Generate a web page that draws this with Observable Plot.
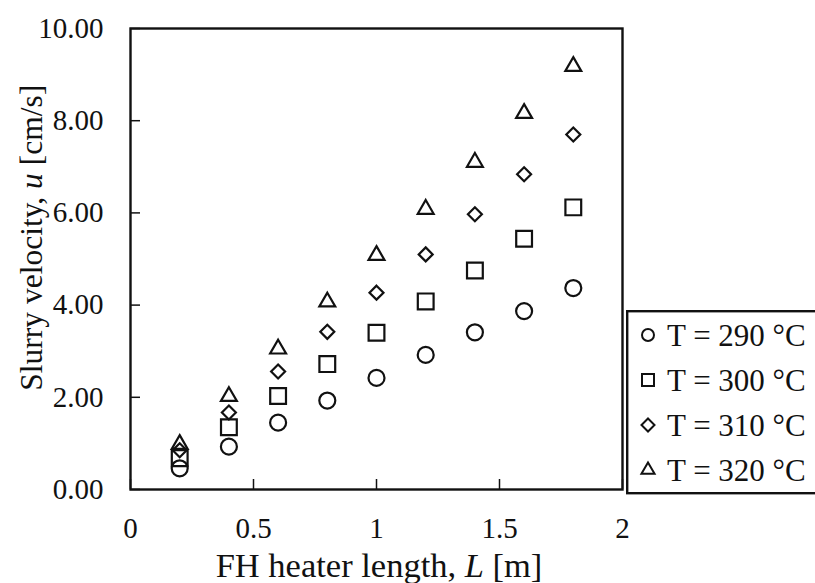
<!DOCTYPE html>
<html><head><meta charset="utf-8">
<script src="https://cdn.jsdelivr.net/npm/d3@7"></script>
<script src="https://cdn.jsdelivr.net/npm/@observablehq/plot@0.6"></script>
<style>
body{margin:0;background:#fff;}
#wrap{position:relative;width:815px;height:583px;overflow:hidden;font-family:"Liberation Serif","Times New Roman","DejaVu Serif",serif;background:#fff;}
#legend{position:absolute;left:626px;top:310px;}
</style></head><body><div id="wrap"></div>
<script>
// ---- data ----
const lengths = [0.2, 0.4, 0.6, 0.8, 1.0, 1.2, 1.4, 1.6, 1.8];
const seriesLabels = ["T = 290 °C", "T = 300 °C", "T = 310 °C", "T = 320 °C"];
const u290 = [0.46, 0.93, 1.45, 1.93, 2.42, 2.92, 3.41, 3.87, 4.37];
const u300 = [0.68, 1.35, 2.03, 2.72, 3.40, 4.08, 4.75, 5.44, 6.12];
const u310 = [0.85, 1.67, 2.56, 3.42, 4.27, 5.10, 5.97, 6.84, 7.70];
const u320 = [0.98, 2.02, 3.05, 4.07, 5.08, 6.08, 7.10, 8.16, 9.18];
const xTicks = [0, 0.5, 1, 1.5, 2];
const yTicks = [0, 2, 4, 6, 8, 10];
const xLabel = ["FH heater length, ", "L", " [m]"];
const yLabel = ["Slurry velocity, ", "u", " [cm/s]"];

// ---- styles ----
const ink = "#111";
const serif = '"Liberation Serif","Times New Roman","DejaVu Serif",serif';
const symbolNames = ["circle", "square", "diamond2", "triangle"];
const plotRadii = [8, 8.9, 6.3, 5.9];
const legendTypes = [d3.symbolCircle, d3.symbolSquare, d3.symbolDiamond2, d3.symbolTriangle];
const legendSizes = [113, 144, 108, 75];

const seriesValues = [u290, u300, u310, u320];
const rows = [];
seriesValues.forEach((vals, i) => vals.forEach((v, j) => rows.push({L: lengths[j], u: v, s: seriesLabels[i]})));

const plot = Plot.plot({
  width: 815, height: 583,
  marginLeft: 130, marginRight: 193, marginTop: 28, marginBottom: 94,
  style: {fontFamily: serif, color: ink, background: "white"},
  x: {domain: [0, 2]},
  y: {domain: [0, 10]},
  marks: [
    Plot.axisX({ticks: xTicks, tickFormat: d => String(d), tickSize: -10, tickPadding: 38, fontSize: 29, label: null, strokeWidth: 1.5}),
    Plot.axisY({ticks: yTicks, tickFormat: d3.format(".2f"), tickSize: -10, tickPadding: 37, fontSize: 29, label: null, strokeWidth: 1.5}),
    Plot.frame({stroke: ink, strokeWidth: 2.4}),
    ...seriesLabels.map((s, i) => Plot.dot(rows.filter(d => d.s === s), {
      x: "L", y: "u", symbol: symbolNames[i], r: plotRadii[i],
      stroke: ink, strokeWidth: 2.2, fill: "none"
    }))
  ]
});

const svg = d3.select(plot);
const xs = plot.scale("x"), ys = plot.scale("y");
function addLabel(parts, fontSize, transform) {
  const t = svg.append("text").attr("transform", transform)
    .attr("text-anchor", "middle").attr("font-size", fontSize).attr("fill", ink)
    .attr("font-family", serif);
  parts.forEach((p, i) => t.append("tspan").attr("font-style", i === 1 ? "italic" : "normal").text(p));
}
addLabel(xLabel, 34.5, `translate(${xs.apply(1) + 3},577)`);
addLabel(yLabel, 31.5, `translate(42,${ys.apply(5.45)}) rotate(-90)`);

const wrap = document.getElementById("wrap");
wrap.appendChild(plot);

// ---- legend ----
const leg = d3.select(wrap).append("div").attr("id", "legend")
  .append("svg").attr("width", 200).attr("height", 186);
leg.append("rect").attr("x", 1.2).attr("y", 1.2).attr("width", 300).attr("height", 182)
  .attr("fill", "white").attr("stroke", ink).attr("stroke-width", 2.4);
seriesLabels.forEach((s, i) => {
  const cy = 25 + i * 45;
  leg.append("path").attr("d", d3.symbol(legendTypes[i], legendSizes[i])())
    .attr("transform", `translate(22,${cy})`).attr("fill", "none").attr("stroke", ink).attr("stroke-width", 2);
  leg.append("text").attr("x", 41).attr("y", cy).attr("dy", "0.35em")
    .attr("font-size", 31).attr("fill", ink)
    .attr("font-family", serif).text(s);
});
</script></body></html>
